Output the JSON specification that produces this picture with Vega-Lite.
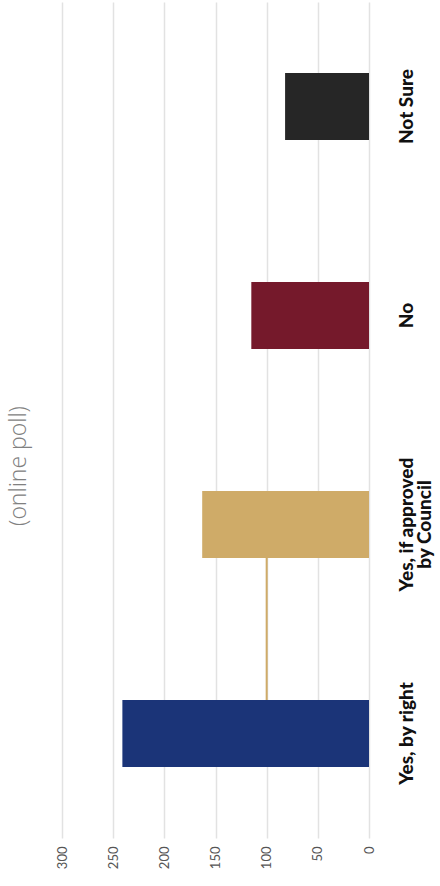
{
  "$schema": "https://vega.github.io/schema/vega-lite/v6.json",
  "width": 307,
  "height": 836,
  "padding": {"left": 62, "top": 2, "right": 71, "bottom": 48},
  "autosize": {"type": "none"},
  "background": "white",
  "title": {
    "text": "(online poll)",
    "orient": "left",
    "anchor": "middle",
    "offset": 25,
    "dx": -46,
    "fontSize": 23,
    "font": "Open Sans",
    "fontWeight": 300,
    "color": "#808080"
  },
  "datasets": {
    "bars": [
      {"answer": "Not Sure", "count": 82},
      {"answer": "No", "count": 115},
      {"answer": "Yes, if approved by Council", "count": 163},
      {"answer": "Yes, by right", "count": 241}
    ],
    "marker": [
      {"from": "Yes, if approved by Council", "to": "Yes, by right", "value": 100}
    ]
  },
  "config": {
    "view": {"stroke": null},
    "axis": {"labelFont": "Lato", "titleFont": "Lato"}
  },
  "layer": [
    {
      "data": {"name": "marker"},
      "mark": {"type": "rule", "color": "#cfab68", "strokeWidth": 2},
      "encoding": {
        "x": {"field": "value", "type": "quantitative"},
        "y": {"field": "from", "type": "nominal"},
        "y2": {"field": "to"}
      }
    },
    {
      "data": {"name": "bars"},
      "mark": {"type": "bar"},
      "encoding": {
        "x": {
          "field": "count",
          "type": "quantitative",
          "scale": {"domain": [0, 300], "reverse": true},
          "axis": {
            "title": null,
            "values": [0, 50, 100, 150, 200, 250, 300],
            "domain": false,
            "ticks": false,
            "labelAngle": -90,
            "labelAlign": "right",
            "labelBaseline": "middle",
            "labelPadding": 8,
            "labelFontSize": 13,
            "labelColor": "#555555",
            "gridColor": "#e2e2e2",
            "gridWidth": 1.5
          }
        },
        "y": {
          "field": "answer",
          "type": "nominal",
          "scale": {
            "domain": ["Not Sure", "No", "Yes, if approved by Council", "Yes, by right"],
            "paddingInner": 0.68,
            "paddingOuter": 0.34
          },
          "axis": {
            "orient": "right",
            "title": null,
            "domain": false,
            "ticks": false,
            "grid": false,
            "labelAngle": -90,
            "labelAlign": "center",
            "labelBaseline": "top",
            "labelPadding": 28,
            "labelFont": "Lato",
            "labelFontWeight": 900,
            "labelFontSize": 19,
            "labelColor": "#111111",
            "labelLineHeight": 18,
            "labelExpr": "datum.label == 'Yes, if approved by Council' ? ['Yes, if approved', 'by Council'] : datum.label"
          }
        },
        "color": {
          "field": "answer",
          "type": "nominal",
          "scale": {
            "domain": ["Not Sure", "No", "Yes, if approved by Council", "Yes, by right"],
            "range": ["#262626", "#75192b", "#cfab68", "#1b3478"]
          },
          "legend": null
        }
      }
    }
  ]
}
